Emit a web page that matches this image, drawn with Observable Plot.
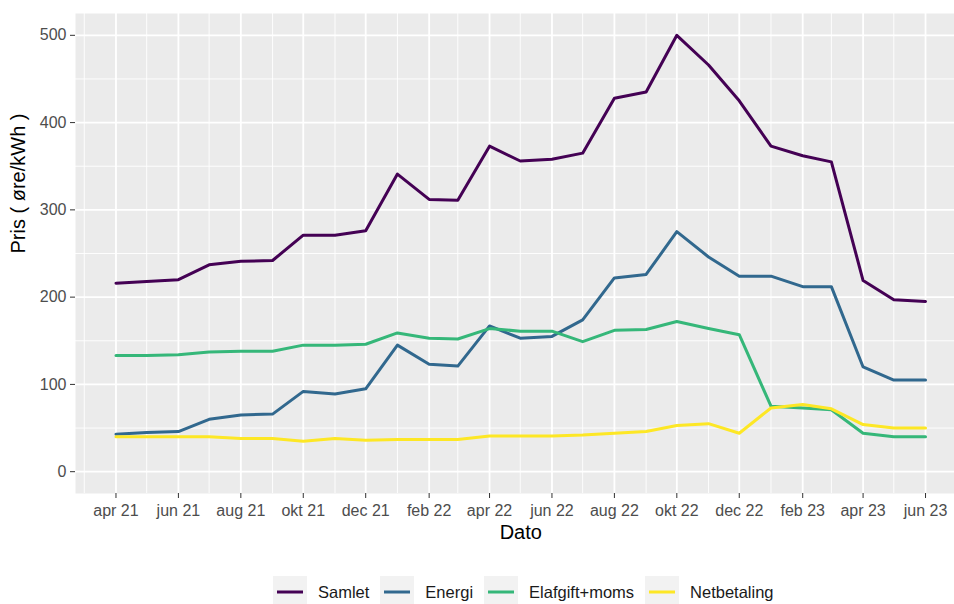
<!DOCTYPE html>
<html>
<head>
<meta charset="utf-8">
<script src="https://cdn.jsdelivr.net/npm/d3@7"></script>
<script src="https://cdn.jsdelivr.net/npm/@observablehq/plot@0.6"></script>
<style>
  html, body { margin: 0; padding: 0; background: #fff; }
  #wrap { position: relative; width: 954px; height: 604px; overflow: hidden; font-family: "Liberation Sans", Arial, sans-serif; }
  #chart svg { overflow: hidden; }
  #legend { position: absolute; top: 576px; left: 273px; display: flex; align-items: center; font-size: 16.5px; color: #1a1a1a; white-space: nowrap; }
  .key { width: 34px; height: 32px; background: #F2F2F2; display: flex; align-items: center; justify-content: center; }
  .lab { margin: 0 11px 0 11px; line-height: 32px; }
</style>
</head>
<body>
<div id="wrap">
  <div id="chart"></div>
  <div id="legend"></div>
</div>
<script>
// ---- data ----
const months = ["2021-04","2021-05","2021-06","2021-07","2021-08","2021-09","2021-10","2021-11","2021-12",
                "2022-01","2022-02","2022-03","2022-04","2022-05","2022-06","2022-07","2022-08","2022-09",
                "2022-10","2022-11","2022-12","2023-01","2023-02","2023-03","2023-04","2023-05","2023-06"];
const samlet      = [216,218,220,237,241,242,271,271,276,341,312,311,373,356,358,365,428,435,500,466,425,373,362,355,219,197,195];
const energi      = [43,45,46,60,65,66,92,89,95,145,123,121,167,153,155,174,222,226,275,246,224,224,212,212,120,105,105];
const elafgift    = [133,133,134,137,138,138,145,145,146,159,153,152,164,161,161,149,162,163,172,164,157,75,73,71,44,40,40];
const netbetaling = [40,40,40,40,38,38,35,38,36,37,37,37,41,41,41,42,44,46,53,55,44,73,77,72,54,50,50];

const seriesNames  = ["Samlet", "Energi", "Elafgift+moms", "Netbetaling"];
const seriesColors = ["#440154", "#31688E", "#35B779", "#FDE725"];

const xTickMonths = ["2021-04","2021-06","2021-08","2021-10","2021-12","2022-02","2022-04","2022-06","2022-08","2022-10","2022-12","2023-02","2023-04","2023-06"];
const xTickLabels = ["apr 21","jun 21","aug 21","okt 21","dec 21","feb 22","apr 22","jun 22","aug 22","okt 22","dec 22","feb 23","apr 23","jun 23"];
const xMinorMonths = ["2021-03","2021-05","2021-07","2021-09","2021-11","2022-01","2022-03","2022-05","2022-07","2022-09","2022-11","2023-01","2023-03","2023-05","2023-07"];
const yTicks = [0, 100, 200, 300, 400, 500];
const yMinor = [50, 150, 250, 350, 450];

const xLabel = "Dato";
const yLabel = "Pris ( øre/kWh )";

// ---- build table ----
const parse = d3.utcParse("%Y-%m");
const valuesBySeries = [samlet, energi, elafgift, netbetaling];
const rows = [];
seriesNames.forEach((name, si) => {
  months.forEach((m, i) => rows.push({date: parse(m), value: valuesBySeries[si][i], serie: name}));
});

const t0 = parse(months[0]), t1 = parse(months[months.length - 1]);
const span = t1 - t0;
const xDomain = [new Date(+t0 - 0.05 * span), new Date(+t1 + 0.05 * span)];
const yExp = 0.05 * 500;
const yDomain = [0 - yExp, 500 + yExp];

const tickDates = xTickMonths.map(parse);
const minorDates = xMinorMonths.map(parse);
const labelOf = new Map(tickDates.map((d, i) => [+d, xTickLabels[i]]));

const plot = Plot.plot({
  width: 954,
  height: 575,
  marginLeft: 75,
  marginRight: -11.5,
  marginTop: 13,
  marginBottom: 82,
  style: {fontFamily: "Liberation Sans, Arial, sans-serif", background: "#fff", overflow: "hidden"},
  x: {type: "utc", domain: xDomain},
  y: {domain: yDomain},
  color: {domain: seriesNames, range: seriesColors},
  marks: [
    Plot.frame({fill: "#EBEBEB", stroke: null}),
    Plot.ruleY(yMinor, {stroke: "#fff", strokeWidth: 0.9}),
    Plot.ruleX(minorDates, {stroke: "#fff", strokeWidth: 0.9}),
    Plot.ruleY(yTicks, {stroke: "#fff", strokeWidth: 1.8}),
    Plot.ruleX(tickDates, {stroke: "#fff", strokeWidth: 1.8}),
    Plot.line(rows, {x: "date", y: "value", z: "serie", stroke: "serie", strokeWidth: 3, strokeLinejoin: "round"}),
    Plot.axisY({ticks: yTicks, tickSize: 5, tickPadding: 4, fontSize: 16, color: "#4D4D4D", stroke: "#333", label: null}),
    Plot.axisX({ticks: tickDates, tickSize: 5, tickPadding: 6, fontSize: 16, color: "#4D4D4D", stroke: "#333", label: null,
                tickFormat: d => labelOf.get(+d)}),
    Plot.text([xLabel], {x: () => new Date((+t0 + +t1) / 2), frameAnchor: "bottom", dy: 45, fontSize: 20, fill: "#000"}),
    Plot.text([yLabel], {frameAnchor: "left", dx: -57, rotate: -90, fontSize: 20, fill: "#000"})
  ]
});
document.getElementById("chart").appendChild(plot);

// ---- legend ----
const legend = document.getElementById("legend");
seriesNames.forEach((name, i) => {
  const key = document.createElement("div");
  key.className = "key";
  key.innerHTML = `<svg width="26" height="6"><line x1="0" y1="3" x2="26" y2="3" stroke="${seriesColors[i]}" stroke-width="3"/></svg>`;
  const lab = document.createElement("span");
  lab.className = "lab";
  lab.textContent = name;
  legend.appendChild(key);
  legend.appendChild(lab);
});
</script>
</body>
</html>
